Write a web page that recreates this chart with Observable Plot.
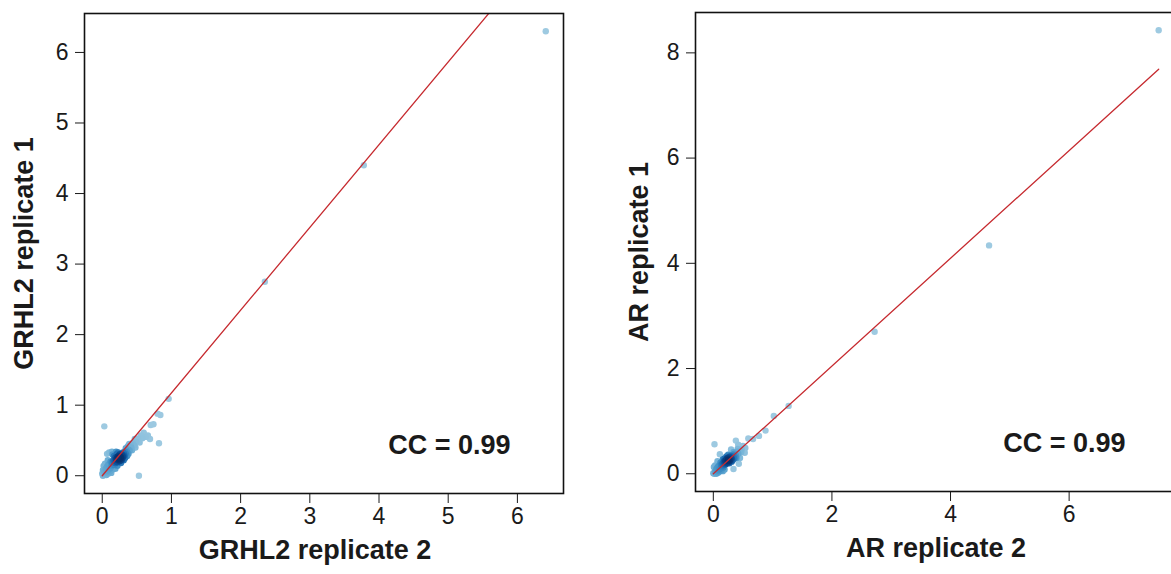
<!DOCTYPE html>
<html><head><meta charset="utf-8">
<script src="https://cdn.jsdelivr.net/npm/d3@7"></script>
<script src="https://cdn.jsdelivr.net/npm/@observablehq/plot@0.6"></script>
<style>
html,body{margin:0;padding:0;background:#fff;}
#wrap{position:relative;width:1171px;height:574px;overflow:hidden;background:#fff;}
#left{position:absolute;left:0;top:0;width:590px;height:574px;}
#right{position:absolute;left:590px;top:0;width:600px;height:574px;}
#wrap svg{max-width:none !important;}
</style></head><body>
<div id="wrap"><div id="left"></div><div id="right"></div></div>
<script>
// ---- GRHL2 data (x = replicate 2, y = replicate 1)
const grhl2Rep2 = [
0.25,0.26,0.23,0.28,0.24,0.27,0.22,0.29,0.21,0.25,0.30,0.26,0.20,0.31,0.23,0.27,0.24,0.28,0.19,0.32,0.22,0.26,0.25,0.29,0.21,0.33,0.18,0.30,0.24,0.27,0.23,0.28,0.26,0.22,0.31,0.34,0.20,0.17,0.35,0.25,0.29,0.24,
0.36,0.38,0.34,0.40,0.37,0.42,0.15,0.16,0.13,0.14,0.18,0.12,0.19,0.17,0.15,0.21,0.23,0.33,0.36,0.31,0.27,0.38,0.41,0.44,0.39,
0.10,0.08,0.06,0.04,0.02,0.01,0.03,0.05,0.07,0.09,0.02,0.04,0.11,0.09,0.06,0.00,0.01,0.13,0.16,0.12,0.08,0.10,0.07,0.14,0.20,0.19,0.22,
0.46,0.49,0.52,0.47,0.54,0.56,0.58,0.60,0.63,0.66,0.69,0.70,0.74,0.80,0.84,0.96,0.82,0.53,0.03,0.43,0.48,2.35,3.78,6.41];
const grhl2Rep1 = [
0.24,0.27,0.22,0.25,0.28,0.23,0.25,0.29,0.20,0.21,0.27,0.30,0.23,0.32,0.26,0.26,0.23,0.31,0.18,0.29,0.19,0.24,0.27,0.24,0.24,0.34,0.21,0.33,0.25,0.29,0.24,0.22,0.22,0.27,0.28,0.31,0.20,0.19,0.36,0.30,0.27,0.20,
0.33,0.37,0.39,0.36,0.42,0.40,0.16,0.22,0.14,0.19,0.15,0.11,0.26,0.28,0.30,0.31,0.33,0.25,0.28,0.22,0.18,0.31,0.44,0.46,0.45,
0.09,0.07,0.05,0.03,0.01,0.00,0.06,0.10,0.13,0.16,0.14,0.17,0.06,0.03,0.01,0.03,0.08,0.04,0.09,0.20,0.22,0.33,0.31,0.34,0.34,0.10,0.14,
0.43,0.48,0.53,0.52,0.47,0.57,0.53,0.61,0.55,0.57,0.52,0.72,0.73,0.88,0.86,1.09,0.46,0.00,0.70,0.36,0.40,2.75,4.40,6.30];

// ---- AR data (x = replicate 2, y = replicate 1)
const arRep2 = [
0.24,0.26,0.22,0.28,0.25,0.27,0.21,0.30,0.20,0.23,0.29,0.26,0.19,0.32,0.22,0.25,0.24,0.28,0.18,0.31,0.21,0.27,0.23,0.30,0.20,0.33,0.17,0.29,0.26,0.24,0.16,0.35,0.18,0.31,0.27,
0.36,0.38,0.34,0.40,0.37,0.14,0.15,0.12,0.13,0.17,0.19,0.16,0.22,0.33,0.35,0.39,0.42,0.45,0.41,0.47,0.25,
0.10,0.08,0.06,0.04,0.02,0.00,0.03,0.05,0.07,0.09,0.01,0.03,0.11,0.08,0.05,0.14,0.12,0.07,0.19,0.16,
0.11,0.34,0.43,0.53,0.54,0.50,0.48,0.02,0.38,0.42,0.59,0.67,0.77,0.88,1.02,1.27,2.72,4.65,7.51,0.30,0.45];
const arRep1 = [
0.25,0.27,0.22,0.26,0.29,0.23,0.24,0.30,0.19,0.20,0.28,0.31,0.22,0.33,0.27,0.26,0.22,0.32,0.17,0.28,0.18,0.25,0.28,0.25,0.25,0.36,0.20,0.34,0.24,0.30,0.15,0.34,0.24,0.23,0.20,
0.38,0.35,0.41,0.42,0.31,0.13,0.19,0.10,0.17,0.12,0.29,0.27,0.33,0.26,0.29,0.30,0.38,0.44,0.47,0.41,0.36,
0.08,0.06,0.04,0.02,0.00,0.01,0.05,0.09,0.12,0.15,0.13,0.16,0.05,0.02,0.00,0.07,0.21,0.24,0.08,0.05,
0.37,0.09,0.19,0.40,0.49,0.53,0.46,0.56,0.63,0.55,0.67,0.66,0.72,0.82,1.10,1.29,2.70,4.34,8.43,0.46,0.30];

// fitted slopes of the red regression lines (through origin)
const fitSlope = [1.173, 1.024];
const ccLabels = ["CC = 0.99", "CC = 0.99"];
const xTitles = ["GRHL2 replicate 2", "AR replicate 2"];
const yTitles = ["GRHL2 replicate 1", "AR replicate 1"];
const xTicksL = [0, 1, 2, 3, 4, 5, 6];
const yTicksL = [0, 1, 2, 3, 4, 5, 6];
const xTicksR = [0, 2, 4, 6];
const yTicksR = [0, 2, 4, 6, 8];

const blues = ["#9ECAE1", "#6BAED6", "#4292C6", "#2171B5", "#08519C", "#08306B"];

function padDomain(v) {
  const [a, b] = d3.extent(v);
  const p = (b - a) * 0.04;
  return [a - p, b + p];
}

function panel(o) {
  const data = o.xs.map((x, i) => ({x, y: o.ys[i]}));
  const h = 0.07;
  data.forEach(a => {
    a.d = d3.sum(data, b => Math.exp(-(((a.x - b.x) / h) ** 2 + ((a.y - b.y) / h) ** 2) / 2));
  });
  const [dmin, dmax] = d3.extent(data, d => d.d);
  const ramp = d3.interpolateRgbBasis(blues);
  data.forEach(a => a.color = ramp(Math.pow((a.d - dmin) / (dmax - dmin), 1.4)));
  data.sort((a, b) => a.d - b.d);
  const xMax = d3.max(o.xs), xMin = d3.min(o.xs);
  const fit = [{x: xMin, y: o.slope * xMin}, {x: xMax, y: o.slope * xMax}];
  const ink = "#1a1a1a";
  return Plot.plot({
    width: o.width, height: 574,
    marginLeft: o.ml, marginRight: o.mr, marginTop: o.mt, marginBottom: o.mb,
    x: {domain: padDomain(o.xs)},
    y: {domain: padDomain(o.ys)},
    color: {type: "identity"},
    style: {fontFamily: "'Liberation Sans', Arial, sans-serif", fontSize: "23px", color: ink, background: "transparent", overflow: "visible"},
    marks: [
      Plot.axisX({ticks: o.xTicks, tickSize: 10, tickPadding: 4, label: null, fontSize: 23, tickFormat: d => String(d)}),
      Plot.axisY({ticks: o.yTicks, tickSize: 9, tickPadding: 7, label: null, fontSize: 23, tickFormat: d => String(d)}),
      Plot.dot(data, {x: "x", y: "y", r: 3.2, fill: "color", stroke: null}),
      Plot.line(fit, {x: "x", y: "y", stroke: "#c62a2f", strokeWidth: 1.3, clip: true}),
      Plot.frame({stroke: "#111", strokeWidth: 1.6}),
      Plot.text([o.xTitle], {text: d => d, frameAnchor: "bottom", dx: o.xdx, dy: 57, textAnchor: "middle", lineAnchor: "middle", fontSize: 27, fontWeight: "bold", fill: ink}),
      Plot.text([o.yTitle], {text: d => d, frameAnchor: "left", rotate: -90, dx: o.ydx, textAnchor: "middle", lineAnchor: "middle", fontSize: 27, fontWeight: "bold", fill: ink}),
      Plot.text([o.cc], {text: d => d, frameAnchor: "bottom-right", dx: o.ccdx, dy: -48, textAnchor: "end", lineAnchor: "middle", fontSize: 27, fontWeight: "bold", fill: ink})
    ]
  });
}

document.getElementById("left").append(panel({
  xs: grhl2Rep2, ys: grhl2Rep1, slope: fitSlope[0], xTicks: xTicksL, yTicks: yTicksL,
  xTitle: xTitles[0], yTitle: yTitles[0], cc: ccLabels[0],
  width: 590, ml: 84, mr: 27, mt: 13, mb: 81, xdx: -9, ydx: -60, ccdx: -53
}));
document.getElementById("right").append(panel({
  xs: arRep2, ys: arRep1, slope: fitSlope[1], xTicks: xTicksR, yTicks: yTicksR,
  xTitle: xTitles[1], yTitle: yTitles[1], cc: ccLabels[1],
  width: 600, ml: 105, mr: 14, mt: 12, mb: 83, xdx: 0, ydx: -56, ccdx: -51
}));
</script>
</body></html>
